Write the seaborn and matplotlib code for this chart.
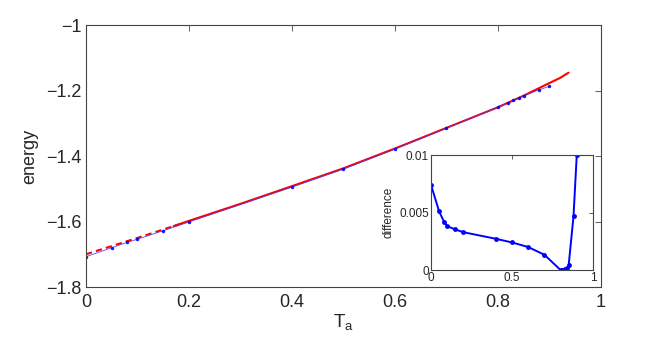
import numpy as np
import pandas as pd
import matplotlib
matplotlib.use("Agg")
import matplotlib.pyplot as plt
import seaborn as sns

# ---- data ----
# blue approximation points (main axes)
blue_x = [0.0, 0.05, 0.08, 0.10, 0.15, 0.20, 0.40, 0.50, 0.60, 0.70, 0.80, 0.82, 0.83, 0.84, 0.85, 0.88, 0.90]
blue_y = [-1.7075, -1.680, -1.6636, -1.654, -1.628, -1.6015, -1.495, -1.440, -1.379, -1.315,
          -1.251, -1.237, -1.230, -1.223, -1.216, -1.198, -1.187]
# red dashed reference curve (low T part)
red_dash_x = [0.0, 0.05, 0.10, 0.15, 0.18]
red_dash_y = [-1.700, -1.675, -1.650, -1.6245, -1.609]
# red solid reference curve
red_x = [0.17, 0.20, 0.30, 0.40, 0.50, 0.60, 0.70, 0.80, 0.85, 0.90, 0.92, 0.937]
red_y = [-1.614, -1.598, -1.546, -1.492, -1.4375, -1.377, -1.314, -1.251, -1.2156, -1.177, -1.162, -1.1456]
# inset: difference
diff_x = [0.0, 0.05, 0.08, 0.10, 0.15, 0.20, 0.40, 0.50, 0.60, 0.70, 0.80, 0.81, 0.82, 0.83, 0.84, 0.85, 0.88, 0.90]
diff_y = [0.00743, 0.00512, 0.00422, 0.00382, 0.00353, 0.00329, 0.00272, 0.00240, 0.00200, 0.00133,
          0.0, 0.0, 0.00003, 0.00008, 0.0002, 0.0004, 0.00468, 0.0100]

main_xticks = [0, 0.2, 0.4, 0.6, 0.8, 1]
main_xticklabels = ["0", "0.2", "0.4", "0.6", "0.8", "1"]
main_yticks = [-1.8, -1.6, -1.4, -1.2, -1.0]
main_yticklabels = ["\u22121.8", "\u22121.6", "\u22121.4", "\u22121.2", "\u22121"]
inset_xticks = [0, 0.5, 1]
inset_xticklabels = ["0", "0.5", "1"]
inset_yticks = [0, 0.005, 0.01]
inset_yticklabels = ["0", "0.005", "0.01"]

sns.set_style("white")
plt.rcParams['font.family'] = ['Liberation Sans', 'DejaVu Sans']
plt.rcParams['mathtext.fontset'] = 'custom'
plt.rcParams['mathtext.rm'] = 'Liberation Sans'
plt.rcParams['mathtext.it'] = 'Liberation Sans'

fig = plt.figure(figsize=(6.64, 3.42), dpi=100)
ax = fig.add_axes([0.1295, 0.1608, 0.7756, 0.766])

df_blue = pd.DataFrame({"x": blue_x, "y": blue_y})
df_rd = pd.DataFrame({"x": red_dash_x, "y": red_dash_y})
df_r = pd.DataFrame({"x": red_x, "y": red_y})

sns.lineplot(data=df_rd, x="x", y="y", ax=ax, color="red", linewidth=1.5,
             linestyle=(0, (3, 2)), sort=False)
sns.lineplot(data=df_r, x="x", y="y", ax=ax, color="red", linewidth=1.5, sort=False)
sns.lineplot(data=df_blue, x="x", y="y", ax=ax, color="#3344ff", linewidth=0.6, sort=False,
             marker="o", markersize=2.5, markeredgewidth=0, markerfacecolor="blue", alpha=0.9)

ax.set_xlim(0, 1)
ax.set_ylim(-1.8, -1.0)
ax.set_xticks(main_xticks)
ax.set_xticklabels(main_xticklabels)
ax.set_yticks(main_yticks)
ax.set_yticklabels(main_yticklabels)
ax.tick_params(direction="in", length=4, width=0.6, color="#444444", labelsize=13,
               top=True, right=True)
ax.tick_params(axis="x", pad=5)
ax.tick_params(axis="y", pad=3)
for s in ax.spines.values():
    s.set_color("#444444")
    s.set_linewidth(0.8)
ax.set_xlabel("T$_\\mathregular{a}$", fontsize=13.5, labelpad=1)
ax.set_ylabel("energy", fontsize=13, labelpad=6)

# inset
axi = fig.add_axes([0.649, 0.2105, 0.244, 0.336])
df_d = pd.DataFrame({"x": diff_x, "y": diff_y})
sns.lineplot(data=df_d, x="x", y="y", ax=axi, color="blue", linewidth=1.4, sort=False,
             marker="o", markersize=3.5, markeredgewidth=0, markerfacecolor="blue")
axi.set_xlim(0, 1)
axi.set_ylim(0, 0.01)
axi.set_xticks(inset_xticks)
axi.set_xticklabels(inset_xticklabels)
axi.set_yticks(inset_yticks)
axi.set_yticklabels(inset_yticklabels)
axi.tick_params(direction="in", length=3, width=0.6, color="#444444", labelsize=8.5,
                top=True, right=True, pad=1.5)
for s in axi.spines.values():
    s.set_color("#444444")
    s.set_linewidth(0.8)
axi.set_xlabel("")
axi.set_ylabel("difference", fontsize=8.5, labelpad=3)

fig.savefig("out.png", dpi=100)
